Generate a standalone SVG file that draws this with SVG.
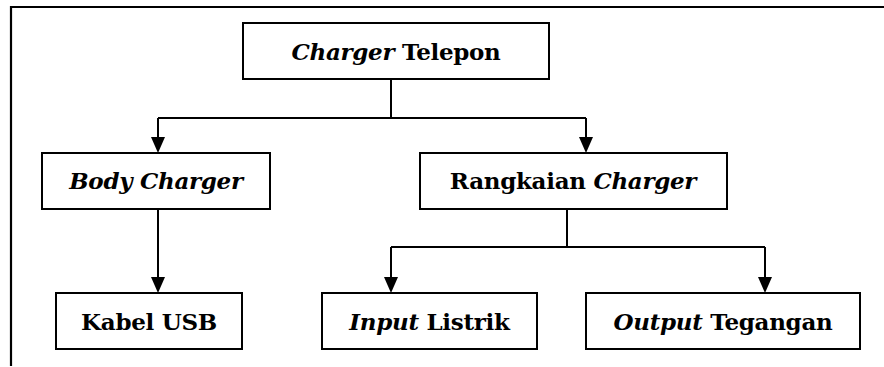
<svg xmlns="http://www.w3.org/2000/svg" width="884" height="367" viewBox="0 0 884 367">
  <style>
    .box { fill: #ffffff; stroke: #000000; stroke-width: 2; }
    .lbl { font-family: "DejaVu Serif", "Liberation Serif", "Times New Roman", serif; font-size: 23px; font-weight: bold; fill: #000000; text-anchor: middle; letter-spacing: -0.3px; }
    .it { font-style: italic; }
    .conn { fill: none; stroke: #000000; stroke-width: 2; }
    .frame { fill: none; stroke: #000000; stroke-width: 2.2; }
  </style>
  <defs>
    <marker id="arrow" markerUnits="userSpaceOnUse" markerWidth="16" markerHeight="14" refX="8" refY="7" orient="auto">
      <path d="M0,0 L16,7 L0,14 Z" fill="#000000"/>
    </marker>
  </defs>
  <rect width="884" height="367" fill="#ffffff"/>
  <path class="frame" d="M11,366 L11,7 L884,7"/>

  <g id="connectors">
    <path class="conn" d="M391,79 L391,118"/>
    <path class="conn" d="M158,118 L586,118"/>
    <path class="conn" d="M158,118 L158,145" marker-end="url(#arrow)"/>
    <path class="conn" d="M586,118 L586,145" marker-end="url(#arrow)"/>
    <path class="conn" d="M158,209 L158,285" marker-end="url(#arrow)"/>
    <path class="conn" d="M567,209 L567,247"/>
    <path class="conn" d="M391,247 L765,247"/>
    <path class="conn" d="M391,247 L391,285" marker-end="url(#arrow)"/>
    <path class="conn" d="M765,247 L765,285" marker-end="url(#arrow)"/>
  </g>

  <g id="charger-telepon">
    <rect class="box" x="243" y="23" width="306" height="56"/>
    <text class="lbl" x="396" y="60"><tspan class="it">Charger</tspan> Telepon</text>
  </g>
  <g id="body-charger">
    <rect class="box" x="42" y="153" width="228" height="56"/>
    <text class="lbl it" x="156" y="189">Body Charger</text>
  </g>
  <g id="rangkaian-charger">
    <rect class="box" x="420" y="153" width="307" height="56"/>
    <text class="lbl" x="573" y="189">Rangkaian <tspan class="it">Charger</tspan></text>
  </g>
  <g id="kabel-usb">
    <rect class="box" x="56" y="293" width="186" height="56"/>
    <text class="lbl" x="149" y="330">Kabel USB</text>
  </g>
  <g id="input-listrik">
    <rect class="box" x="322" y="293" width="215" height="56"/>
    <text class="lbl" x="429.5" y="330"><tspan class="it">Input</tspan> Listrik</text>
  </g>
  <g id="output-tegangan">
    <rect class="box" x="586" y="293" width="274" height="56"/>
    <text class="lbl" x="723" y="330"><tspan class="it">Output</tspan> Tegangan</text>
  </g>
</svg>
